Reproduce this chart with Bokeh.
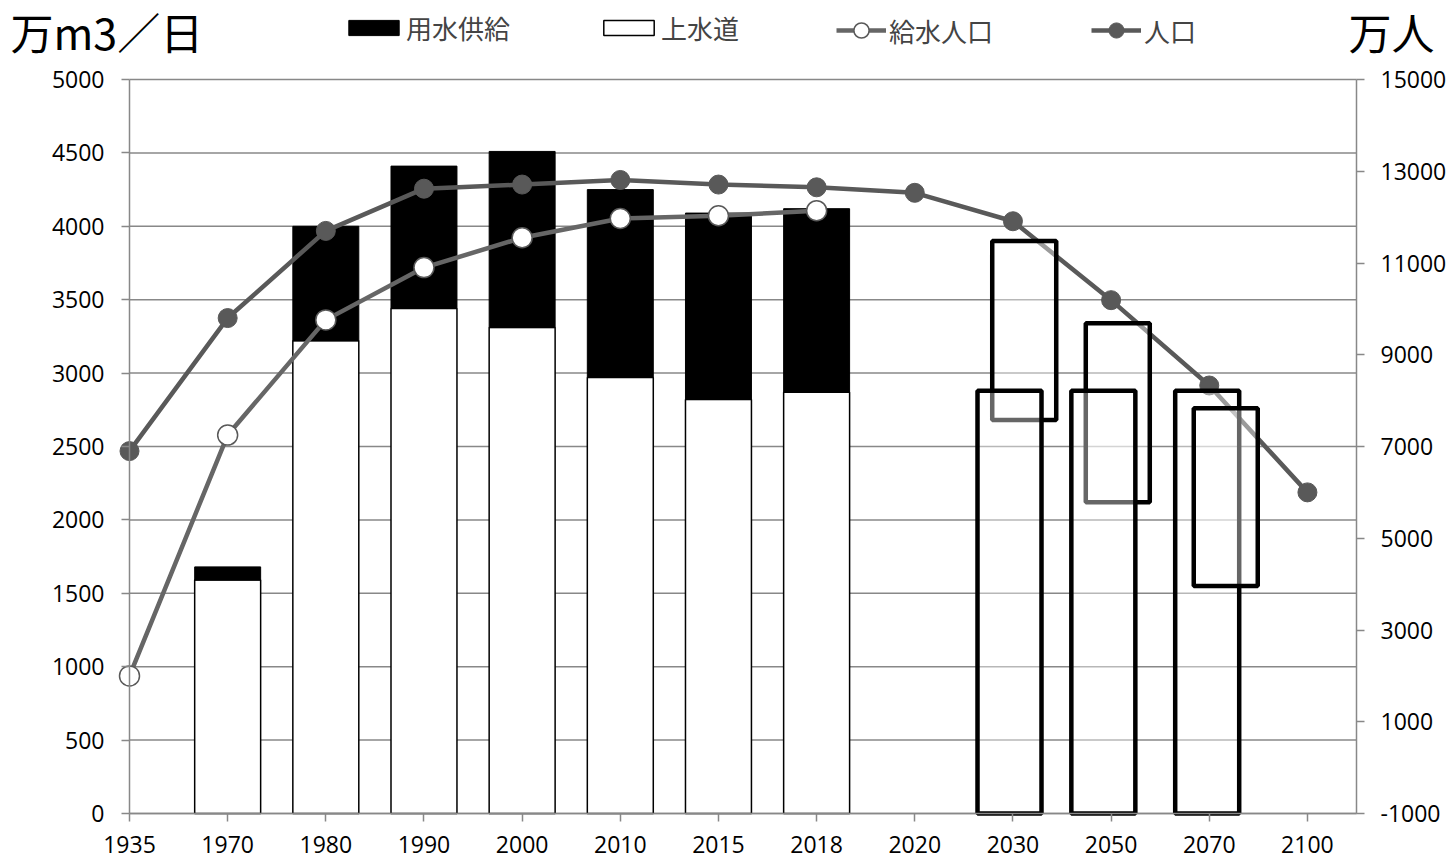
from bokeh.plotting import figure
from bokeh.models import Range1d, LinearAxis, FixedTicker, Legend, LegendItem, Label
from bokeh.embed import file_html
from bokeh.resources import INLINE

# ---------------- data ----------------
years = ["1935", "1970", "1980", "1990", "2000", "2010", "2015", "2018",
         "2020", "2030", "2050", "2070", "2100"]
population = [6900, 9800, 11700, 12620, 12710, 12810, 12710, 12650,
              12530, 11910, 10190, 8330, 6000]              # 人口 (万人)
served_years = ["1935", "1970", "1980", "1990", "2000", "2010", "2015", "2018"]
served_population = [2000, 7250, 9760, 10900, 11550, 11970, 12030, 12140]  # 給水人口

bar_years = ["1970", "1980", "1990", "2000", "2010", "2015", "2018"]
josuido = [1590, 3220, 3440, 3310, 2970, 2820, 2870]        # 上水道 (万m3/日)
yosui_kyokyu = [90, 780, 970, 1200, 1280, 1270, 1250]        # 用水供給

future_years = ["2030", "2050", "2070"]
future_base_top = [2880, 2880, 2880]
future_range_low = [2680, 2120, 1550]
future_range_high = [3900, 3340, 2760]

left_ticks = list(range(0, 5001, 500))
right_ticks = list(range(-1000, 15001, 2000))

# ---------------- layout / style ----------------
W, H = 1453, 860
FX0, FY0 = 129, 813          # canvas position of (first category, 0)
PX_X = 98.16                 # px per category
PX_Y = 734 / 5000            # px per left unit
PX_Y2 = 734 / 16000          # px per right unit
N = len(years)
XMAX = N - 0.5

pos = {y: i for i, y in enumerate(years)}
GRAY = "#888888"
NUM_FONT = "Open Sans"
CJK_FONT = "Noto Sans CJK JP"

x_range = Range1d(-FX0 / PX_X, (W - FX0) / PX_X)
y_range = Range1d(-(H - FY0) / PX_Y, FY0 / PX_Y)
y2_range = Range1d(-1000 - (H - FY0) / PX_Y2, -1000 + FY0 / PX_Y2)

p = figure(width=W, height=H, output_backend="svg", toolbar_location=None,
           x_range=x_range, y_range=y_range, x_axis_location=None, y_axis_location=None,
           min_border=0)
p.outline_line_color = None
p.grid.visible = False
p.extra_y_ranges = {"pop": y2_range}

# grid lines (left axis ticks) limited to the plot area
p.segment(x0=0, x1=XMAX, y0=left_ticks, y1=left_ticks, line_color=GRAY, line_width=1.5)

left_axis = LinearAxis(ticker=FixedTicker(ticks=left_ticks), fixed_location=0,
                       bounds=(0, 5000))
right_axis = LinearAxis(y_range_name="pop", ticker=FixedTicker(ticks=right_ticks),
                        fixed_location=XMAX, bounds=(-1000, 15000))
right_axis.major_label_overrides = {t: str(t) for t in right_ticks}
bottom_axis = LinearAxis(ticker=FixedTicker(ticks=list(range(N))), fixed_location=0,
                         bounds=(0, XMAX))
bottom_axis.major_label_overrides = {i: y for i, y in enumerate(years)}
p.add_layout(left_axis, "left")
p.add_layout(right_axis, "right")
p.add_layout(bottom_axis, "below")

for ax in [bottom_axis, left_axis, right_axis]:
    ax.axis_line_color = GRAY
    ax.axis_line_width = 1.5
    ax.major_tick_line_color = GRAY
    ax.major_tick_line_width = 1.5
    ax.major_tick_in = 0
    ax.major_tick_out = 8
    ax.minor_tick_line_color = None
    ax.major_label_text_font = NUM_FONT
    ax.major_label_text_font_size = "23px"
    ax.major_label_text_color = "black"
left_axis.major_label_standoff = 17
right_axis.major_label_standoff = 16
bottom_axis.major_label_standoff = 14

# ---------------- bars ----------------
bx = [pos[y] for y in bar_years]
tops = [a + b for a, b in zip(josuido, yosui_kyokyu)]
BW = 0.672
white_bars = p.vbar(x=bx, bottom=0, top=josuido, width=BW, fill_color="white",
                    line_color="black", line_width=1.5)
black_bars = p.vbar(x=bx, bottom=josuido, top=tops, width=BW, fill_color="black",
                    line_color="black", line_width=1)

# ---------------- lines ----------------
px = [pos[y] for y in years]
sx = [pos[y] for y in served_years]
served_line = p.line(sx, served_population, y_range_name="pop", line_color="#666666",
                     line_width=4.5)
served_pts = p.scatter(sx, served_population, y_range_name="pop", size=20,
                       fill_color="white", line_color="#595959", line_width=1.5)
pop_line = p.line(px, population, y_range_name="pop", line_color="#595959",
                  line_width=4.5)
pop_pts = p.scatter(px, population, y_range_name="pop", size=19,
                    fill_color="#595959", line_color="#595959")

# ---------------- future boxes ----------------
BOXW = 0.652
tall_shift = [-0.035, -0.079, -0.021]
small_shift = [0.115, 0.068, 0.168]
fx = [pos[y] for y in future_years]

def box(i, kind):
    if kind == "tall":
        c = fx[i] + tall_shift[i]
        return c - BOXW / 2, c + BOXW / 2, 0, future_base_top[i]
    c = fx[i] + small_shift[i]
    return c - BOXW / 2, c + BOXW / 2, future_range_low[i], future_range_high[i]

order = [(0, "small"), (1, "small"), (0, "tall"), (1, "tall"), (2, "tall"), (2, "small")]
boxes = [box(i, k) for i, k in order]
p.quad(left=[b[0] for b in boxes], right=[b[1] for b in boxes],
       bottom=[b[2] for b in boxes], top=[b[3] for b in boxes],
       fill_color="white", fill_alpha=0.4, line_color="black", line_width=4.5)

# ---------------- legends ----------------
leg1 = Legend(items=[LegendItem(label="用水供給", renderers=[black_bars]),
                     LegendItem(label="上水道", renderers=[white_bars])],
              orientation="horizontal", location=(342, H - 46),
              glyph_width=63, glyph_height=19, label_standoff=1, spacing=87,
              padding=0, margin=0, border_line_color=None,
              background_fill_alpha=0,
              label_text_font=CJK_FONT, label_text_font_size="26px")
leg2 = Legend(items=[LegendItem(label="給水人口", renderers=[served_line, served_pts]),
                     LegendItem(label="人口", renderers=[pop_line, pop_pts])],
              orientation="horizontal", location=(836, H - 49),
              glyph_width=50, glyph_height=38, label_standoff=3, spacing=98,
              padding=0, margin=0, border_line_color=None,
              background_fill_alpha=0,
              label_text_font=CJK_FONT, label_text_font_size="26px")
p.add_layout(leg1)
p.add_layout(leg2)

# ---------------- unit titles ----------------
p.add_layout(Label(x=10, y=H - 30, x_units="screen", y_units="screen", text="万m3／日",
                   text_font=CJK_FONT, text_font_size="43px", text_baseline="middle",
                   text_align="left", text_color="black"))
p.add_layout(Label(x=1434, y=H - 30, x_units="screen", y_units="screen", text="万人",
                   text_font=CJK_FONT, text_font_size="43px", text_baseline="middle",
                   text_align="right", text_color="black"))

open("out.html", "w").write(file_html(p, INLINE))
